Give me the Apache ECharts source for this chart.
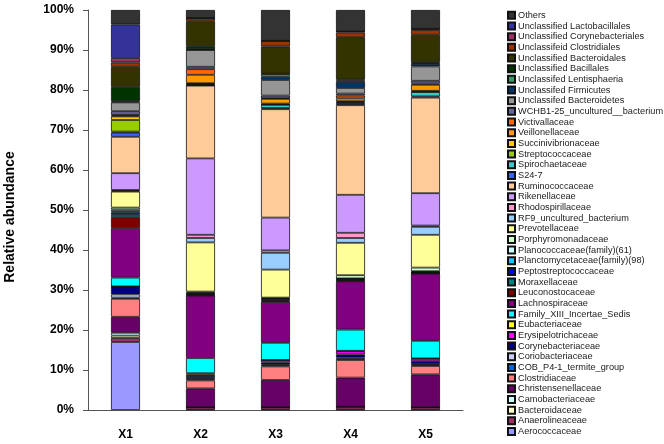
<!DOCTYPE html>
<html>
<head>
<meta charset="utf-8">
<script src="https://cdn.jsdelivr.net/npm/echarts@6/dist/echarts.min.js"></script>
<style>html,body{margin:0;padding:0;background:#fff}#c{width:664px;height:444px}</style>
</head>
<body>
<div id="c"></div>
<script>
// Samples (x categories)
var categories = ['X1', 'X2', 'X3', 'X4', 'X5'];

// Taxa, listed from the bottom of each stack to the top
var taxa = [
  'Aerococcaceae', 'Anaerolineaceae', 'Bacteroidaceae', 'Camobacteriaceae', 'Christensenellaceae',
  'Clostridiaceae', 'COB_P4-1_termite_group', 'Coriobacteriaceae', 'Corynebacteriaceae', 'Erysipelotrichaceae',
  'Eubacteriaceae', 'Family_XIII_Incertae_Sedis', 'Lachnospiraceae', 'Leuconostocaceae', 'Moraxellaceae',
  'Peptostreptococcaceae', 'Planctomycetaceae(family)(98)', 'Planococcaceae(family)(61)', 'Porphyromonadaceae', 'Prevotellaceae',
  'RF9_uncultured_bacterium', 'Rhodospirillaceae', 'Rikenellaceae', 'Ruminococcaceae', 'S24-7',
  'Spirochaetaceae', 'Streptococcaceae', 'Succinivibrionaceae', 'Veillonellaceae', 'Victivallaceae',
  'WCHB1-25_uncultured__bacterium', 'Unclassifed Bacteroidetes', 'Unclassifed Firmicutes', 'Unclassifed Lentisphaeria', 'Unclassified Bacillales',
  'Unclassified Bacteroidales', 'Unclassifeid Clostridiales', 'Unclassified Corynebacteriales', 'Unclassified Lactobacillales', 'Others'
];

var taxaColors = [
  '#9999FF', '#993366', '#FFFFCC', '#CCFFFF', '#660066',
  '#FF8080', '#0066CC', '#CCCCFF', '#000080', '#FF00FF',
  '#FFFF00', '#00FFFF', '#800080', '#800000', '#008080',
  '#0000FF', '#00CCFF', '#CCFFFF', '#CCFFCC', '#FFFF99',
  '#99CCFF', '#FF99CC', '#CC99FF', '#FFCC99', '#3366FF',
  '#33CCCC', '#99CC00', '#FFCC00', '#FF9900', '#FF6600',
  '#666699', '#969696', '#003366', '#339966', '#003300',
  '#333300', '#993300', '#993366', '#333399', '#333333'
];

// Relative abundance (%) per sample, same order as taxa
var X1 = [17.0, 1.0, 0.6, 0.7, 4.0, 4.5, 0.3, 0.8, 2.0, 0, 0, 2.2, 12.4, 2.7, 0.6, 0.5, 0.4, 0.4, 0.5, 4.0,
          0.2, 0.2, 4.2, 9.1, 1.0, 0.3, 2.9, 0.9, 0.2, 0.2, 0.9, 2.2, 0.2, 0.2, 3.5, 5.0, 1.1, 1.1, 8.4, 3.6];
var X2 = [0.1, 0.6, 0, 0, 4.7, 2.0, 0.3, 0.3, 0.5, 0.3, 0.4, 3.8, 15.6, 0.1, 0.2, 0.1, 0.2, 0.1, 0.3, 12.3,
          1.1, 0.8, 19.1, 18.2, 0.1, 0.2, 0.1, 0.2, 2.1, 1.4, 0.6, 4.2, 0.1, 0.1, 0.8, 6.2, 0.7, 0.1, 0, 2.0];
var X3 = [0.1, 0.6, 0, 0, 6.8, 3.4, 0.3, 0.2, 0.5, 0.6, 0, 4.3, 10.2, 0.2, 0.2, 0.2, 0.2, 0.1, 0.2, 7.0,
          4.2, 0.6, 8.2, 27.1, 0.3, 0.8, 0.1, 0.2, 1.2, 0.1, 0.7, 3.9, 0.8, 0.7, 0.1, 6.8, 1.4, 0, 0, 7.7];
var X4 = [0.1, 0.7, 0, 0, 7.3, 4.4, 0.3, 0.3, 0.8, 0.8, 0.1, 5.3, 12.1, 0.1, 0.2, 0.2, 0.1, 0.1, 0.8, 8.1,
          1.2, 1.3, 9.5, 22.4, 0.3, 0.3, 0.2, 0.2, 0.7, 0.7, 0.5, 1.4, 1.5, 0.4, 0.2, 10.6, 1.2, 0.3, 0, 5.3];
var X5 = [0.1, 0.6, 0, 0, 8.2, 2.1, 0.3, 0.2, 0.7, 0.6, 0.1, 4.4, 16.8, 0.1, 0.1, 0.1, 0.1, 0.2, 0.9, 8.2,
          2.0, 0.3, 8.1, 23.9, 0.3, 1.1, 0.1, 0.2, 1.5, 0.3, 0.7, 3.6, 0.6, 0.2, 0.3, 6.8, 1.2, 0.3, 0, 4.7];

var yTicks = [0, 10, 20, 30, 40, 50, 60, 70, 80, 90, 100];

var samples = [X1, X2, X3, X4, X5];
var FONT = '"Liberation Sans", Arial, sans-serif';

var series = taxa.map(function (name, i) {
  return {
    name: name,
    type: 'bar',
    stack: 'total',
    barWidth: 29,
    data: samples.map(function (s) { return s[i]; }),
    itemStyle: { color: taxaColors[i], borderColor: '#111', borderWidth: 0.8 },
    emphasis: { disabled: true }
  };
});

var chart = echarts.init(document.getElementById('c'), null, { renderer: 'canvas' });
chart.setOption({
  animation: false,
  backgroundColor: '#ffffff',
  grid: { left: 88, right: 201, top: 10, bottom: 34, containLabel: false, outerBoundsMode: 'none' },
  legend: {
    orient: 'vertical',
    left: 507,
    top: 10,
    padding: 0,
    itemGap: 0,
    itemWidth: 7,
    itemHeight: 7,
    icon: 'rect',
    selectedMode: false,
    data: taxa.slice().reverse(),
    textStyle: { fontFamily: FONT, fontSize: 9.2, color: '#222', lineHeight: 10.67, padding: [0, 0, 0, -2] }
  },
  xAxis: {
    type: 'category',
    data: categories,
    axisLine: { lineStyle: { color: '#555', width: 1 } },
    axisTick: { inside: true, length: 4, lineStyle: { color: '#555' } },
    axisLabel: { margin: 19, fontFamily: FONT, fontSize: 12, fontWeight: 'bold', color: '#000' }
  },
  yAxis: {
    type: 'value',
    min: yTicks[0],
    max: yTicks[yTicks.length - 1],
    interval: 10,
    name: 'Relative abundance',
    nameLocation: 'middle',
    nameGap: 71,
    nameTextStyle: { fontFamily: FONT, fontSize: 14, fontWeight: 'bold', color: '#000', padding: [0, 14, 0, 0] },
    splitLine: { show: false },
    axisLine: { show: true, lineStyle: { color: '#555', width: 1 } },
    axisTick: { show: true, inside: false, length: 5, lineStyle: { color: '#555' } },
    axisLabel: { margin: 14, fontFamily: FONT, fontSize: 12, fontWeight: 'bold', color: '#000', formatter: '{value}%' }
  },
  series: series
});
</script>
</body>
</html>
